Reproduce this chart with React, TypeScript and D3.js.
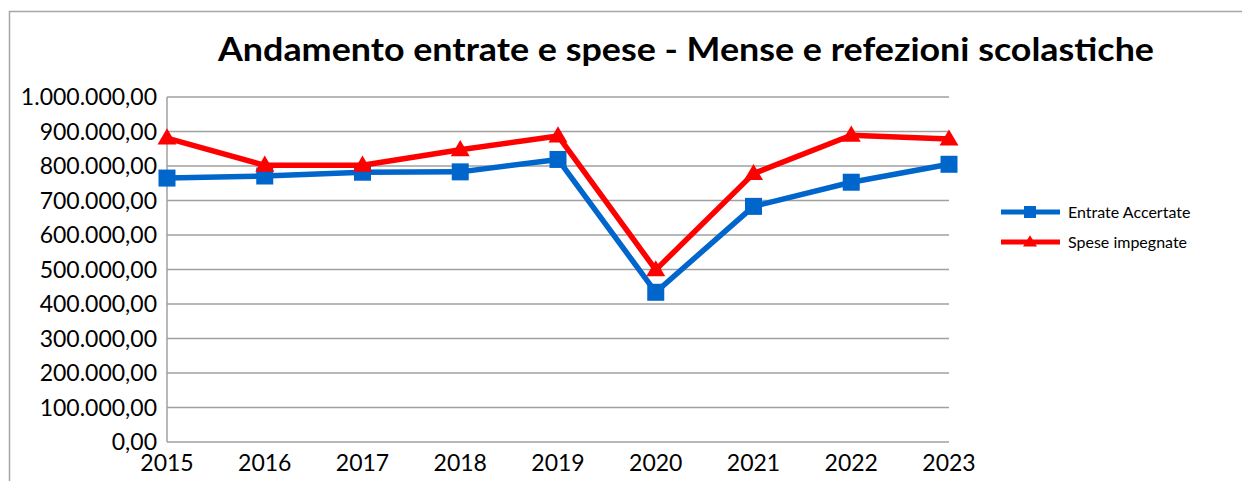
import { useEffect, useRef } from "react"
import * as d3 from "d3"

const years = ["2015", "2016", "2017", "2018", "2019", "2020", "2021", "2022", "2023"]
const entrateAccertate = [765000, 771000, 782000, 783000, 819000, 434000, 683000, 753000, 805000]
const speseImpegnate = [881000, 802000, 802000, 847000, 887000, 499000, 778000, 889000, 878000]
const yTicks = [0, 100000, 200000, 300000, 400000, 500000, 600000, 700000, 800000, 900000, 1000000]

const series = [
  { name: "Entrate Accertate", values: entrateAccertate, color: "#0066CC", marker: "square" },
  { name: "Spese impegnate", values: speseImpegnate, color: "#FF0000", marker: "triangle" },
]

const FONT = "Lato, 'Open Sans', sans-serif"

// Italian number format: 1.000.000,00
const fmt = (v: number) => {
  const s = Math.round(v).toString().replace(/\B(?=(\d{3})+(?!\d))/g, ".")
  return `${s},00`
}

export default function App() {
  const svgRef = useRef<SVGSVGElement>(null)

  useEffect(() => {
    if (!svgRef.current) return
    const svg = d3.select(svgRef.current)
    svg.selectAll("*").remove()

    const width = 1242
    const height = 481
    const plot = { left: 167, right: 949, top: 97, bottom: 442 }

    svg.attr("width", width).attr("height", height)

    svg.append("rect").attr("width", width).attr("height", height).attr("fill", "#fff")

    // outer chart border (left and top visible)
    svg
      .append("path")
      .attr("d", `M9.5,${height} V11.5 H${width}`)
      .attr("fill", "none")
      .attr("stroke", "#a6a6a6")
      .attr("stroke-width", 1.5)

    // title
    svg
      .append("text")
      .attr("x", 686)
      .attr("y", 61)
      .attr("text-anchor", "middle")
      .attr("textLength", 936)
      .attr("lengthAdjust", "spacingAndGlyphs")
      .style("font-family", FONT)
      .style("font-size", "33px")
      .style("font-weight", "bold")
      .style("fill", "#000")
      .text("Andamento entrate e spese - Mense e refezioni scolastiche")

    const x = d3.scalePoint<string>().domain(years).range([plot.left, plot.right])
    const y = d3.scaleLinear().domain([0, 1000000]).range([plot.bottom, plot.top])

    // gridlines
    svg
      .append("g")
      .selectAll("line")
      .data(yTicks)
      .enter()
      .append("line")
      .attr("x1", plot.left)
      .attr("x2", plot.right)
      .attr("y1", (d) => y(d))
      .attr("y2", (d) => y(d))
      .attr("stroke", "#a0a0a0")
      .attr("stroke-width", 1.5)

    // left axis line
    svg
      .append("line")
      .attr("x1", plot.left)
      .attr("x2", plot.left)
      .attr("y1", plot.top)
      .attr("y2", plot.bottom)
      .attr("stroke", "#a0a0a0")
      .attr("stroke-width", 1.5)

    // y labels
    svg
      .append("g")
      .selectAll("text")
      .data(yTicks)
      .enter()
      .append("text")
      .attr("x", 157)
      .attr("y", (d) => y(d))
      .attr("dy", "0.35em")
      .attr("text-anchor", "end")
      .style("font-family", FONT)
      .style("font-size", "23px")
      .style("fill", "#000")
      .text((d) => fmt(d))

    // x labels
    svg
      .append("g")
      .selectAll("text")
      .data(years)
      .enter()
      .append("text")
      .attr("x", (d) => x(d)!)
      .attr("y", 471)
      .attr("text-anchor", "middle")
      .style("font-family", FONT)
      .style("font-size", "23px")
      .style("fill", "#000")
      .text((d) => d)

    const line = d3
      .line<number>()
      .x((_, i) => x(years[i])!)
      .y((d) => y(d))

    const drawMarker = (g: d3.Selection<SVGGElement, unknown, null, undefined>, kind: string, cx: number, cy: number, color: string, s: number) => {
      if (kind === "square") {
        g.append("rect")
          .attr("x", cx - s / 2)
          .attr("y", cy - s / 2)
          .attr("width", s)
          .attr("height", s)
          .attr("fill", color)
      } else {
        const h = s * 0.95
        g.append("path")
          .attr("d", `M${cx},${cy - h * 0.6} L${cx + s / 2 + 1},${cy + h * 0.4} L${cx - s / 2 - 1},${cy + h * 0.4} Z`)
          .attr("fill", color)
      }
    }

    series.forEach((s) => {
      const g = svg.append("g")
      g.append("path")
        .attr("d", line(s.values))
        .attr("fill", "none")
        .attr("stroke", s.color)
        .attr("stroke-width", 5.5)
        .attr("stroke-linejoin", "round")
      s.values.forEach((v, i) => drawMarker(g, s.marker, x(years[i])!, y(v), s.color, 17))
    })

    // legend
    const legend = svg.append("g")
    series.forEach((s, i) => {
      const ly = 212 + i * 30
      legend
        .append("line")
        .attr("x1", 1001)
        .attr("x2", 1060)
        .attr("y1", ly)
        .attr("y2", ly)
        .attr("stroke", s.color)
        .attr("stroke-width", 5)
      drawMarker(legend as any, s.marker, 1030, ly, s.color, 12)
      legend
        .append("text")
        .attr("x", 1068)
        .attr("y", ly)
        .attr("dy", "0.35em")
        .style("font-family", FONT)
        .style("font-size", "16px")
        .style("fill", "#000")
        .text(s.name)
    })
  }, [])

  return (
    <div style={{ position: "absolute", left: 0, top: 0 }}>
      <svg ref={svgRef} style={{ display: "block" }}></svg>
    </div>
  )
}
